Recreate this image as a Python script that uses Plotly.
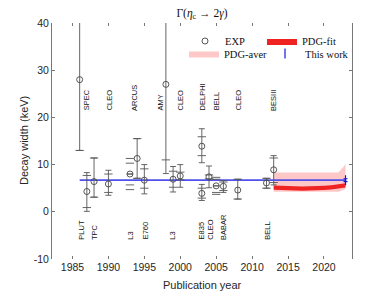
import plotly.graph_objects as go

# ---------------- data ----------------
exp_names = ["SPEC", "PLUT", "TPC", "CLEO", "L3", "ARCUS", "E760", "AMY", "L3",
             "CLEO", "DELPHI", "E835", "CLEO", "BELL", "BABAR", "CLEO", "BELL", "BESIII"]
exp_year = [1986, 1987, 1988, 1990, 1993, 1994, 1995, 1998, 1999,
            2000, 2003, 2003, 2004, 2005, 2006, 2008, 2012, 2013]
exp_val = [28.0, 4.3, 6.4, 5.9, 8.0, 11.3, 6.7, 27.0, 6.9,
           7.6, 13.9, 3.9, 7.4, 5.5, 5.4, 4.6, 6.1, 8.9]
err_tot_plus = [15.0, 4.0, 5.0, 2.9, 3.3, 4.2, 3.3, 18.9, 2.7,
                2.4, 3.7, 1.9, 2.3, 1.8, 1.2, 2.3, 1.0, 3.0]
err_tot_minus = [15.0, 4.2, 3.3, 2.4, 3.3, 4.2, 2.9, 18.9, 2.7,
                 2.4, 3.5, 1.5, 2.3, 1.8, 1.3, 1.9, 1.1, 3.2]
err_stat_plus = [15.0, 3.4, 5.0, 2.1, 2.3, 4.2, 2.4, 16.0, 1.7,
                 0.8, 2.0, 1.1, 0.4, 1.4, 0.9, 2.3, 1.0, 2.5]
err_stat_minus = [15.0, 3.4, 3.3, 1.8, 2.3, 4.2, 1.7, 16.0, 1.7,
                  0.8, 2.0, 1.0, 0.4, 1.4, 0.9, 1.9, 1.1, 2.7]
has_line = [True, True, True, True, False, True, True, True, True,
            True, True, True, True, False, True, True, True, True]

top_labels = ["SPEC", "CLEO", "ARCUS", "AMY", "CLEO", "DELPHI", "BELL", "CLEO", "BESIII"]
top_label_x = [1986.9, 1990.1, 1993.6, 1997.3, 2000.0, 2003.05, 2005.05, 2008.05, 2013.0]
bot_labels = ["PLUT", "TPC", "L3", "E760", "L3", "E835", "CLEO", "BABAR", "BELL"]
bot_label_x = [1986.2, 1988.05, 1993.15, 1995.2, 1999.0, 2003.0, 2004.1, 2006.0, 2012.1]
top_label_y = 21.2
bot_label_y = -6.1

pdg_years = [2013, 2014, 2015, 2016, 2017, 2018, 2019, 2020, 2021, 2022, 2023]
pdg_fit_val = [5.1, 5.1, 5.0, 4.95, 4.9, 4.9, 5.0, 5.05, 5.15, 5.3, 5.6]
pdg_fit_err = [0.45] * 11
pdg_aver_val = [6.3, 6.3, 6.3, 6.3, 6.3, 6.3, 6.3, 6.3, 6.3, 6.3, 7.4]
pdg_aver_err = [2.05, 2.05, 2.05, 2.05, 2.05, 2.05, 2.05, 2.05, 2.05, 2.05, 2.6]

this_work_val = 6.7
this_work_err = 0.3
this_work_year = 2023
this_work_span = [1986, 2023]

x_ticks = [1985, 1990, 1995, 2000, 2005, 2010, 2015, 2020]
y_ticks = [-10, 0, 10, 20, 30, 40]
y_tick_text = ["-10", "0", "10", "20", "30", "40"]

# ---------------- figure ----------------
GRAY = "#555555"
fig = go.Figure()

# PDG-aver band
aver_lo = [v - e for v, e in zip(pdg_aver_val, pdg_aver_err)]
aver_hi = [v + e for v, e in zip(pdg_aver_val, pdg_aver_err)]
fig.add_trace(go.Scatter(x=pdg_years, y=aver_lo, mode="lines", line=dict(width=0),
                         showlegend=False, hoverinfo="skip"))
fig.add_trace(go.Scatter(x=pdg_years, y=aver_hi, mode="lines", line=dict(width=0),
                         fill="tonexty", fillcolor="rgb(255,200,200)",
                         name="PDG-aver", legend="legend2"))

# PDG-fit band
fit_lo = [v - e for v, e in zip(pdg_fit_val, pdg_fit_err)]
fit_hi = [v + e for v, e in zip(pdg_fit_val, pdg_fit_err)]
fig.add_trace(go.Scatter(x=pdg_years, y=fit_lo, mode="lines", line=dict(width=0),
                         showlegend=False, hoverinfo="skip"))
fig.add_trace(go.Scatter(x=pdg_years, y=fit_hi, mode="lines", line=dict(width=0),
                         fill="tonexty", fillcolor="rgb(240,35,35)",
                         name="PDG-fit", legend="legend3"))

# This work horizontal line
fig.add_trace(go.Scatter(x=this_work_span, y=[this_work_val] * len(this_work_span),
                         mode="lines", line=dict(color="rgb(80,80,235)", width=1.8),
                         showlegend=False, hoverinfo="skip"))

# Experimental points with total errors
ep = [p if l else 0 for p, l in zip(err_tot_plus, has_line)]
em = [m if l else 0 for m, l in zip(err_tot_minus, has_line)]
fig.add_trace(go.Scatter(
    x=exp_year, y=exp_val, mode="markers", name="EXP", legend="legend",
    marker=dict(symbol="circle-open", size=6, color="#444444", line=dict(width=0.9)),
    error_y=dict(type="data", symmetric=False, array=ep, arrayminus=em,
                 color=GRAY, thickness=0.9, width=3),
    text=exp_names))

# inner (stat) ticks and caps for points without vertical line
tick_x, tick_y = [], []
for yr, v, sp, sm, tp, tm, l in zip(exp_year, exp_val, err_stat_plus, err_stat_minus,
                                    err_tot_plus, err_tot_minus, has_line):
    tick_x += [yr, yr]
    tick_y += [v + sp, v - sm]
    if not l:
        tick_x += [yr, yr]
        tick_y += [v + tp, v - tm]
fig.add_trace(go.Scatter(x=tick_x, y=tick_y, mode="markers", showlegend=False,
                         marker=dict(symbol="line-ew-open", size=6, color=GRAY,
                                     line=dict(width=0.9, color=GRAY)),
                         hoverinfo="skip"))

# This work point
fig.add_trace(go.Scatter(
    x=[this_work_year], y=[this_work_val], mode="markers", name="This work",
    legend="legend4",
    marker=dict(symbol="line-ns-open", size=7, color="rgb(20,20,220)",
                line=dict(width=1.2, color="rgb(20,20,220)")),
    error_y=dict(type="data", array=[this_work_err], color="rgb(20,20,200)",
                 thickness=1.2, width=2)))

# experiment labels
for name, xx in zip(top_labels, top_label_x):
    fig.add_annotation(x=xx, y=top_label_y, text=name, textangle=-90, showarrow=False,
                       xanchor="center", yanchor="bottom", borderpad=0,
                       font=dict(family="Liberation Sans", size=7.5, color="#111111"))
for name, xx in zip(bot_labels, bot_label_x):
    fig.add_annotation(x=xx, y=bot_label_y, text=name, textangle=-90, showarrow=False,
                       xanchor="center", yanchor="bottom", borderpad=0,
                       font=dict(family="Liberation Sans", size=7.5, color="#111111"))

# The page body has an 8px margin: the figure is sized to fit the 390x293 window.
OFF = 8
W, H = 390 - OFF, 293 - OFF
PL, PT, PR, PB = 52, 23, 352, 259          # plot area in page pixels
L, T = PL - OFF, PT - OFF
R, B = (W + OFF) - PR, (H + OFF) - PB
pw, ph = PR - PL, PB - PT


def px2paper(px, py):
    return (px - PL) / pw, (PB - py) / ph


# axis titles as paper-positioned texts
axis_font = dict(family="Liberation Sans", size=11, color="#262626")
tx, ty = px2paper(202, 285)
fig.add_annotation(xref="paper", yref="paper", x=tx, y=ty, text="Publication year",
                   showarrow=False, xanchor="center", yanchor="middle", font=axis_font)
tx, ty = px2paper(24, 141)
fig.add_annotation(xref="paper", yref="paper", x=tx, y=ty, text="Decay width (keV)",
                   textangle=-90, showarrow=False, xanchor="center", yanchor="middle",
                   font=axis_font)

leg_font = dict(family="Liberation Serif", size=10.5, color="#111111")
lx1, ly1 = px2paper(185, 26.5)
lx2, ly2 = px2paper(184, 39)
lx3, ly3 = px2paper(262, 26.5)
lx4, ly4 = px2paper(265, 39)

leg_common = dict(xanchor="left", yanchor="top", bgcolor="rgba(0,0,0,0)",
                  font=leg_font, borderwidth=0, itemwidth=30)

fig.update_layout(
    width=W, height=H,
    margin=dict(l=L, r=R, t=T, b=B, autoexpand=False),
    paper_bgcolor="white", plot_bgcolor="white",
    title=dict(text="Γ(<i>η</i><sub>c</sub> → 2<i>γ</i>)", x=(202 - OFF) / W,
               xanchor="center", y=1 - (13 - OFF) / H, yanchor="middle", automargin=False,
               font=dict(family="Liberation Serif", size=11.5, color="#111111")),
    legend=dict(x=lx1, y=ly1, **leg_common),
    legend2=dict(x=lx2, y=ly2, **leg_common),
    legend3=dict(x=lx3, y=ly3, **leg_common),
    legend4=dict(x=lx4, y=ly4, **leg_common),
    xaxis=dict(range=[1982.15, 2023.9], tickvals=x_ticks, ticks="inside", ticklen=3,
               tickcolor="#777777", showline=False, mirror="ticks", zeroline=False,
               showgrid=False, automargin=False,
               tickfont=dict(family="Liberation Sans", size=10.5, color="#262626")),
    yaxis=dict(range=[-10, 40], tickvals=y_ticks, ticktext=y_tick_text, ticks="inside",
               ticklen=3, tickcolor="#777777", showline=True, linecolor="#777777",
               linewidth=1, mirror="ticks", zeroline=False, showgrid=False,
               automargin=False,
               tickfont=dict(family="Liberation Sans", size=10.5, color="#262626")),
)

fig.write_html("out.html")
